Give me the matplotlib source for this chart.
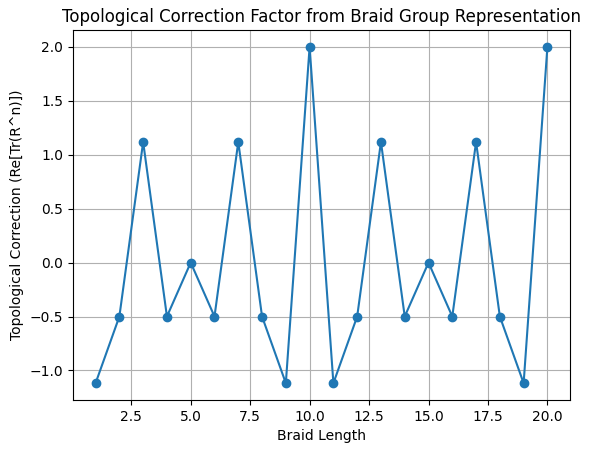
import matplotlib
matplotlib.use("Agg")
import matplotlib.pyplot as plt

braid_lengths = list(range(1, 21))
corrections = [-1.118, -0.5, 1.118, -0.5, 0.0, -0.5, 1.118, -0.5, -1.118, 2.0,
               -1.118, -0.5, 1.118, -0.5, 0.0, -0.5, 1.118, -0.5, -1.118, 2.0]

fig, ax = plt.subplots(figsize=(5.91, 4.53), dpi=100)
fig.subplots_adjust(left=73/591, right=570/591, top=1 - 30/453, bottom=1 - 400/453)
ax.plot(braid_lengths, corrections, marker='o')
ax.set_title('Topological Correction Factor from Braid Group Representation')
ax.set_xlabel('Braid Length')
ax.set_ylabel('Topological Correction (Re[Tr(R^n)])')
ax.grid(True)

fig.savefig('out.png')
